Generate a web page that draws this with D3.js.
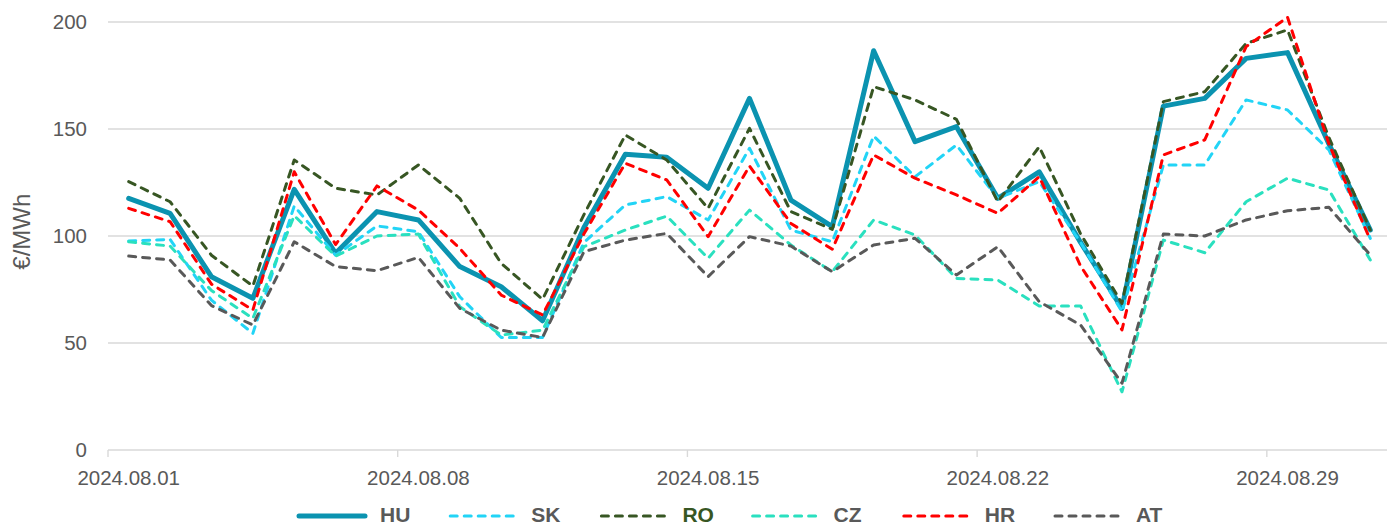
<!DOCTYPE html>
<html>
<head>
<meta charset="utf-8">
<script src="https://cdn.jsdelivr.net/npm/d3@7"></script>
<style>
  body { margin: 0; background: #fff; }
  svg { display: block; font-family: "Liberation Sans", Arial, sans-serif; }
</style>
</head>
<body>
<div id="wrapper"></div>
<script>
// daily categories
const days = [
  '2024.08.01','2024.08.02','2024.08.03','2024.08.04','2024.08.05','2024.08.06','2024.08.07',
  '2024.08.08','2024.08.09','2024.08.10','2024.08.11','2024.08.12','2024.08.13','2024.08.14',
  '2024.08.15','2024.08.16','2024.08.17','2024.08.18','2024.08.19','2024.08.20','2024.08.21',
  '2024.08.22','2024.08.23','2024.08.24','2024.08.25','2024.08.26','2024.08.27','2024.08.28',
  '2024.08.29','2024.08.30','2024.08.31'
];
const xTickDays = ['2024.08.01', '2024.08.08', '2024.08.15', '2024.08.22', '2024.08.29'];
const yTicks = [0, 50, 100, 150, 200];
const yTitle = '€/MWh';

// €/MWh per day
const hu = [117.6, 110.6, 81, 70.9, 121.8, 91.9, 111.4, 107.5, 85.7, 76.3, 60.4, 104, 138.2, 136.8, 122.3, 164.3,
  116.8, 104.4, 186.6, 144.1, 151.1, 117.6, 130, 97, 66.2, 160.7, 164.3, 183, 185.7, 143, 102.8];
const sk = [97.7, 98.4, 70, 54.5, 114, 91, 104.7, 102, 71.6, 52.6, 52.6, 97, 114.5, 118.4, 107.5, 141,
  102.8, 97.3, 146.7, 127.7, 142.5, 117.6, 125.4, 97, 64.6, 133.2, 133.2, 163.6, 158.9, 140.2, 98.9];
const ro = [125.4, 116, 91, 76.6, 135.5, 122.3, 119.2, 133.2, 117.6, 87.2, 70.4, 110, 147.2, 135.5, 112.9, 150.3,
  111.4, 103.1, 169.8, 163.6, 154.5, 116, 141.7, 101, 68.5, 162.8, 167.4, 190, 196.3, 146, 102.8];
const cz = [97.3, 95.3, 74.5, 61.5, 109.5, 90.6, 100, 100.9, 67, 53.7, 56, 95, 102.8, 109.3, 89.6, 112.1,
  95.8, 83.3, 107.5, 100.5, 80.2, 79.4, 67.3, 67.3, 27.2, 98.1, 92.2, 116, 127, 121.5, 88.8];
const hr = [112.9, 106.7, 77.5, 65.4, 130, 96, 123.4, 112.1, 94.2, 72.4, 63.1, 101, 134, 126.2, 99.7, 132.7,
  105.9, 93.8, 137.9, 127, 119.2, 110.6, 127.7, 86, 56.1, 137.9, 144.9, 188.5, 202.2, 143, 98.1];
const at = [90.6, 88.8, 67.5, 58.4, 97.3, 85.7, 83.8, 90, 66.2, 56, 52.6, 92.7, 98.1, 101.2, 81, 99.7,
  95.3, 83.3, 95.8, 98.9, 81.8, 95, 69.3, 58.4, 31.2, 100.9, 100, 107.5, 111.8, 113.4, 91.1];

const seriesNames = ['HU', 'SK', 'RO', 'CZ', 'HR', 'AT'];
const seriesValues = [hu, sk, ro, cz, hr, at];
const seriesColors = ['#0b93b0', '#22d4f6', '#375623', '#2ae0bf', '#ff0000', '#595959'];

function drawChart() {
  const dimensions = {
    width: 1387,
    height: 527,
    margin: { top: 22, left: 108 },
    boundedWidth: 1283,
    boundedHeight: 428,
  };

  const svg = d3.select('#wrapper')
    .append('svg')
    .attr('width', dimensions.width)
    .attr('height', dimensions.height);

  const bounds = svg.append('g')
    .attr('transform', `translate(${dimensions.margin.left},${dimensions.margin.top})`);

  // each day gets a band, points sit in the middle of it
  const xScale = d3.scaleBand()
    .domain(days)
    .range([0, dimensions.boundedWidth])
    .padding(0);
  const xCenter = d => xScale(d) + xScale.bandwidth() / 2;

  const yScale = d3.scaleLinear()
    .domain([0, 200])
    .range([dimensions.boundedHeight, 0]);

  // gridlines
  bounds.append('g')
    .selectAll('line')
    .data(yTicks)
    .join('line')
    .attr('x1', 0)
    .attr('x2', dimensions.boundedWidth)
    .attr('y1', d => yScale(d))
    .attr('y2', d => yScale(d))
    .attr('stroke', '#d9d9d9')
    .attr('stroke-width', 1.4);

  // y tick labels
  bounds.append('g')
    .selectAll('text')
    .data(yTicks)
    .join('text')
    .attr('x', -21)
    .attr('y', d => yScale(d))
    .attr('dy', '0.36em')
    .attr('text-anchor', 'end')
    .attr('fill', '#595959')
    .style('font-size', '20.5px')
    .text(d => d);

  svg.append('text')
    .attr('transform', `translate(30,${dimensions.margin.top + yScale(102)}) rotate(-90)`)
    .attr('text-anchor', 'middle')
    .attr('fill', '#595959')
    .style('font-size', '24px')
    .text(yTitle);

  // x ticks at the left edge of the labelled day, label centred on the day
  const xAxis = bounds.append('g')
    .attr('transform', `translate(0,${dimensions.boundedHeight})`);
  xAxis.selectAll('line')
    .data(xTickDays)
    .join('line')
    .attr('x1', d => xScale(d))
    .attr('x2', d => xScale(d))
    .attr('y1', 0)
    .attr('y2', 7)
    .attr('stroke', '#d9d9d9')
    .attr('stroke-width', 1.4);
  xAxis.selectAll('text')
    .data(xTickDays)
    .join('text')
    .attr('x', d => xCenter(d))
    .attr('y', 35)
    .attr('text-anchor', 'middle')
    .attr('fill', '#595959')
    .style('font-size', '20.5px')
    .text(d => d);

  const lineGenerator = d3.line()
    .x((d, i) => xCenter(days[i]))
    .y(d => yScale(d));

  seriesNames.forEach((name, i) => {
    const solid = name === 'HU';
    bounds.append('path')
      .attr('d', lineGenerator(seriesValues[i]))
      .attr('fill', 'none')
      .attr('stroke', seriesColors[i])
      .attr('stroke-width', solid ? 5 : 3)
      .attr('stroke-linejoin', 'round')
      .attr('stroke-linecap', 'round')
      .attr('stroke-dasharray', solid ? null : '7,7');
  });

  // legend
  const legendScale = d3.scalePoint()
    .domain(seriesNames)
    .range([297, 1053]);
  const legend = svg.append('g')
    .selectAll('g')
    .data(seriesNames)
    .join('g')
    .attr('transform', d => `translate(${legendScale(d)},516)`);
  legend.append('line')
    .attr('x1', 2)
    .attr('x2', 68)
    .attr('stroke', (d, i) => seriesColors[i])
    .attr('stroke-width', (d, i) => i === 0 ? 5 : 3)
    .attr('stroke-linecap', 'round')
    .attr('stroke-dasharray', (d, i) => i === 0 ? null : '7,7');
  legend.append('text')
    .attr('x', 83)
    .attr('y', 6)
    .attr('fill', d => d === 'RO' ? '#375623' : '#595959')
    .style('font-size', '21px')
    .style('font-weight', 'bold')
    .text(d => d);
}

drawChart();
</script>
</body>
</html>
